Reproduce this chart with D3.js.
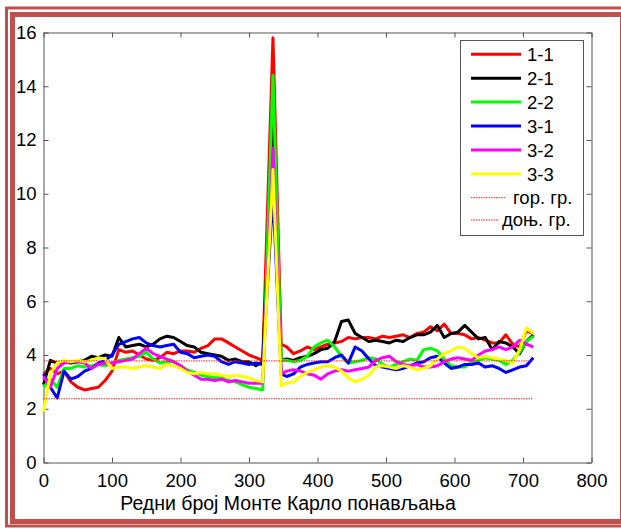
<!DOCTYPE html>
<html>
<head>
<meta charset="utf-8">
<script src="https://cdnjs.cloudflare.com/ajax/libs/d3/7.8.5/d3.min.js"></script>
<style>
  body { margin: 0; background: #fff; }
  svg { display: block; font-family: "Liberation Sans", Arial, sans-serif; }
</style>
</head>
<body>
<div id="chart"></div>
<script>
// =============================
// DATA
// =============================
const xs = [0, 10, 20, 30, 40, 50, 60, 70, 80, 90, 100, 110, 120, 130, 140, 150, 160,
  170, 180, 190, 200, 210, 220, 230, 240, 250, 260, 270, 280, 290, 300, 310, 320,
  335,
  347, 355, 365, 375, 385, 395, 405, 415, 425, 435, 445, 455, 465, 475, 485, 495,
  505, 515, 525, 535, 545, 555, 565, 575, 585, 595, 605, 615, 625, 635, 645, 655,
  665, 675, 685, 695, 705, 715];

const s11 = [3.3, 3.5, 3.3, 3.4, 3.0, 2.8, 2.7, 2.75, 2.8, 3.05, 3.4, 4.2, 4.1, 4.15, 4.0, 3.85, 3.8,
  3.9, 4.1, 4.05, 4.15, 4.15, 4.1, 4.25, 4.35, 4.6, 4.6, 4.45, 4.3, 4.15, 4.0, 3.9, 3.8,
  15.8,
  4.4, 4.3, 4.05, 4.15, 4.3, 4.2, 4.3, 4.4, 4.45, 4.5, 4.65, 4.6, 4.65, 4.65, 4.6, 4.7,
  4.65, 4.7, 4.75, 4.65, 4.8, 4.85, 5.05, 4.9, 5.15, 4.8, 4.8, 4.75, 4.6, 4.65, 4.55, 4.45,
  4.45, 4.75, 4.4, 4.3, 4.9, 4.8];

const s21 = [2.9, 3.8, 3.7, 3.75, 3.7, 3.75, 3.8, 3.95, 3.9, 4.0, 3.95, 4.65, 4.3, 4.35, 4.4, 4.3, 4.4,
  4.6, 4.7, 4.65, 4.5, 4.35, 4.3, 4.1, 4.05, 4.0, 3.95, 3.8, 3.85, 3.75, 3.75, 3.6, 3.75,
  12.5,
  3.8, 3.85, 3.8, 3.9, 3.95, 4.05, 4.2, 4.25, 4.5, 5.25, 5.3, 4.8, 4.65, 4.5, 4.55, 4.5,
  4.45, 4.55, 4.5, 4.65, 4.75, 4.75, 4.85, 5.1, 4.65, 4.8, 4.85, 5.1, 4.85, 4.6, 4.65, 4.2,
  4.5, 4.45, 4.3, 4.05, 4.5, 4.75];

const s22 = [2.8, 3.1, 2.8, 3.5, 3.5, 3.6, 3.55, 3.6, 3.65, 3.6, 3.7, 3.8, 3.85, 3.9, 3.95, 4.1, 3.85,
  3.7, 3.75, 3.75, 3.6, 3.45, 3.35, 3.25, 3.2, 3.15, 3.15, 3.05, 3.0, 2.9, 2.8, 2.75, 2.7,
  14.4,
  3.8, 3.8, 3.75, 3.8, 3.95, 4.3, 4.45, 4.55, 4.3, 3.95, 3.7, 3.75, 3.8, 3.9, 3.85, 3.65,
  3.55, 3.65, 3.75, 3.85, 3.8, 4.2, 4.25, 4.15, 3.85, 3.6, 3.55, 3.55, 3.75, 3.8, 3.9, 3.85,
  3.8, 3.65, 3.8, 4.1, 4.5, 4.7];

const s31 = [3.3, 2.8, 2.4, 3.4, 3.1, 3.2, 3.4, 3.5, 3.7, 3.8, 4.0, 4.4, 4.5, 4.6, 4.65, 4.45, 4.35,
  4.3, 4.35, 4.4, 4.1, 4.05, 3.9, 3.95, 4.0, 3.95, 3.75, 3.65, 3.75, 3.7, 3.65, 3.7, 3.65,
  10.0,
  3.3, 3.2, 3.3, 3.55, 3.65, 3.7, 3.75, 3.75, 3.9, 4.0, 3.7, 4.3, 4.15, 3.85, 3.6, 3.55,
  3.5, 3.45, 3.5, 3.6, 3.7, 3.75, 3.9, 3.95, 3.7, 3.5, 3.55, 3.65, 3.65, 3.7, 3.55, 3.6,
  3.5, 3.35, 3.45, 3.55, 3.6, 3.9];

const s32 = [3.2, 2.8, 3.5, 3.7, 3.75, 3.75, 3.7, 3.5, 3.65, 3.7, 3.7, 3.75, 3.8, 3.85, 4.05, 4.25, 4.05,
  3.95, 3.85, 3.75, 3.6, 3.4, 3.25, 3.1, 3.1, 3.05, 3.1, 3.0, 3.05, 3.0, 2.95, 2.95, 2.95,
  11.7,
  3.3, 3.4, 3.45, 3.4, 3.3, 3.25, 3.1, 3.3, 3.4, 3.45, 3.4, 3.45, 3.5, 3.55, 3.8, 3.9,
  3.95, 3.75, 3.65, 3.6, 3.65, 3.55, 3.55, 3.6, 3.75, 3.85, 3.9, 3.85, 3.8, 4.0, 4.15, 4.2,
  4.3, 4.2, 4.3, 4.55, 4.4, 4.3];

const s33 = [1.9, 3.3, 3.7, 3.8, 3.75, 3.8, 3.75, 3.8, 3.9, 3.85, 3.5, 3.55, 3.55, 3.5, 3.55, 3.6, 3.55,
  3.5, 3.65, 3.6, 3.5, 3.35, 3.3, 3.35, 3.3, 3.3, 3.25, 3.2, 3.25, 3.2, 3.15, 3.05, 3.0,
  10.9,
  2.85, 2.95, 3.0, 3.2, 3.35, 3.45, 3.55, 3.6, 3.55, 3.4, 3.15, 3.0, 3.1, 3.25, 3.55, 3.6,
  3.55, 3.5, 3.6, 3.55, 3.45, 3.5, 3.6, 3.85, 4.05, 4.15, 4.3, 4.25, 4.05, 3.9, 3.95, 3.9,
  3.85, 3.8, 3.7, 4.2, 5.0, 4.8];

const seriesNames = ["1-1", "2-1", "2-2", "3-1", "3-2", "3-3"];
const seriesColors = ["#ff0000", "#000000", "#00ff00", "#0000ff", "#ff00ff", "#ffff00"];
const seriesValues = [s11, s21, s22, s31, s32, s33];

// granice
const limitNames = ["гор. гр.", "доњ. гр."];
const limitValues = [3.78, 2.37];
const limitRange = [0, 715];

const xTicks = [0, 100, 200, 300, 400, 500, 600, 700, 800];
const yTicks = [0, 2, 4, 6, 8, 10, 12, 14, 16];
const xTitle = "Редни број Монте Карло понављања";

// =============================
// SVG + BORDER
// =============================
const W = 621, H = 529;
const svg = d3.select("#chart").append("svg")
  .attr("width", W)
  .attr("height", H);

const borderColor = "#c0504d";
svg.append("rect")
  .attr("x", 6.5).attr("y", 8)
  .attr("width", 640).attr("height", 518)
  .attr("fill", "none").attr("stroke", borderColor).attr("stroke-width", 3);
svg.append("rect")
  .attr("x", 12.5).attr("y", 14.5)
  .attr("width", 610).attr("height", 507)
  .attr("fill", "none").attr("stroke", borderColor).attr("stroke-width", 5);

// =============================
// SCALES + AXES
// =============================
const x = d3.scaleLinear().domain([0, 800]).range([43.5, 591.5]);
const y = d3.scaleLinear().domain([0, 16]).range([462.5, 32.5]);
const axisColor = "#555";

const gx = svg.append("g")
  .attr("transform", `translate(0,${y(0)})`)
  .call(d3.axisBottom(x).tickValues(xTicks).tickSizeInner(-5).tickSizeOuter(0).tickPadding(11));
const gy = svg.append("g")
  .attr("transform", `translate(${x(0)},0)`)
  .call(d3.axisLeft(y).tickValues(yTicks).tickSizeInner(-5).tickSizeOuter(0).tickPadding(7));
const gt = svg.append("g")
  .attr("transform", `translate(0,${y(16)})`)
  .call(d3.axisTop(x).tickValues(xTicks).tickSizeInner(-5).tickSizeOuter(0).tickFormat(""));
const gr = svg.append("g")
  .attr("transform", `translate(${x(800)},0)`)
  .call(d3.axisRight(y).tickValues(yTicks).tickSizeInner(-5).tickSizeOuter(0).tickFormat(""));

[gx, gy, gt, gr].forEach(g => {
  g.selectAll("path, line").attr("stroke", axisColor);
  g.selectAll("text").attr("fill", "#000").attr("font-size", 18.5)
    .attr("font-family", "'Liberation Sans', Arial, sans-serif");
});

svg.append("text")
  .attr("x", 288).attr("y", 510)
  .attr("text-anchor", "middle")
  .attr("font-size", 19.5)
  .text(xTitle);

// =============================
// LINES
// =============================
const line = d3.line()
  .x((d, i) => x(xs[i]))
  .y(d => y(d));

seriesValues.forEach((vals, k) => {
  svg.append("path")
    .datum(vals)
    .attr("fill", "none")
    .attr("stroke", seriesColors[k])
    .attr("stroke-width", 3)
    .attr("stroke-linejoin", "round")
    .attr("d", line);
});

limitValues.forEach(v => {
  svg.append("line")
    .attr("x1", x(limitRange[0])).attr("x2", x(limitRange[1]))
    .attr("y1", y(v)).attr("y2", y(v))
    .attr("stroke", "#ee2222")
    .attr("stroke-width", 1)
    .attr("stroke-dasharray", "1.5,1");
});

// =============================
// LEGEND
// =============================
const leg = svg.append("g");
leg.append("rect")
  .attr("x", 460.5).attr("y", 40.5)
  .attr("width", 123).attr("height", 195)
  .attr("fill", "#fff").attr("stroke", axisColor);

const rowY = [54.3, 78.3, 102, 126, 150, 174];
seriesNames.forEach((n, k) => {
  leg.append("line")
    .attr("x1", 471).attr("x2", 521)
    .attr("y1", rowY[k]).attr("y2", rowY[k])
    .attr("stroke", seriesColors[k]).attr("stroke-width", 3);
  leg.append("text")
    .attr("x", 527).attr("y", rowY[k] + 6.5)
    .attr("font-size", 18.5)
    .text(n);
});

const limRowY = [197.7, 220];
const limLineEnd = [506, 499];
const limTextX = [513, 502];
limitNames.forEach((n, k) => {
  leg.append("line")
    .attr("x1", 471).attr("x2", limLineEnd[k])
    .attr("y1", limRowY[k]).attr("y2", limRowY[k])
    .attr("stroke", "#ee2222").attr("stroke-width", 1)
    .attr("stroke-dasharray", "1.5,1");
  leg.append("text")
    .attr("x", limTextX[k]).attr("y", limRowY[k] + 6)
    .attr("font-size", 18.5)
    .text(n);
});
</script>
</body>
</html>
